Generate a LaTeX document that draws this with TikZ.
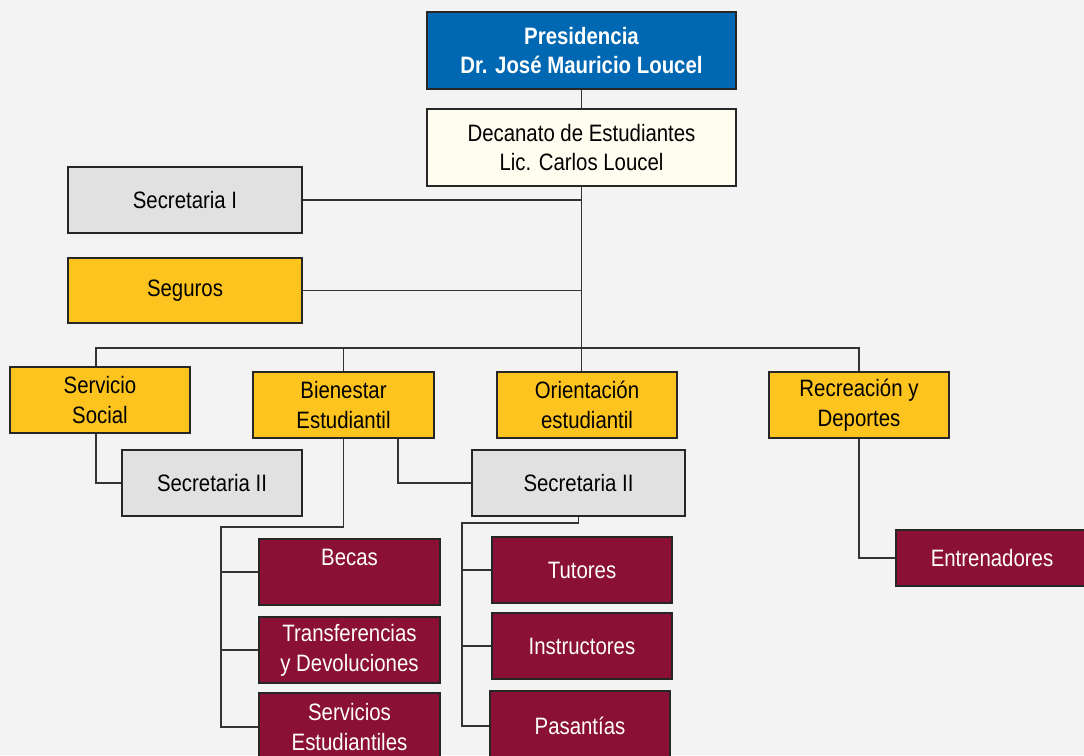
\documentclass[tikz,border=0pt]{standalone}
\usepackage{fontspec}
\setmainfont[FakeStretch=0.86]{Liberation Sans}
\usetikzlibrary{positioning}
\definecolor{fondo}{HTML}{F3F3F3}
\definecolor{azul}{HTML}{0068B3}
\definecolor{crema}{HTML}{FFFDEF}
\definecolor{gris}{HTML}{E1E1E1}
\definecolor{oro}{HTML}{FDC41F}
\definecolor{vino}{HTML}{8A1035}
\tikzset{
  caja/.style={draw=black!85, line width=0.8pt, inner sep=0pt, align=center,
    font=\fontsize{13.5}{17}\selectfont},
  sz/.style 2 args={minimum width=#1*0.02cm, minimum height=#2*0.02cm},
  pres/.style={caja, fill=azul, text=white, font=\fontsize{13.5}{17}\selectfont\bfseries},
  dec/.style={caja, fill=crema},
  sec/.style={caja, fill=gris},
  dep/.style={caja, fill=oro},
  uni/.style={caja, fill=vino, text=white},
  linea/.style={draw=black!80, line width=0.6pt}
}
\begin{document}
\begin{tikzpicture}[x=0.02cm,y=-0.02cm]
\useasboundingbox (0,0) rectangle (1084,755);
\fill[fondo] (0,0) rectangle (1084,755);
\clip (0,0) rectangle (1084,755);
%direccion
\node[pres,sz={309}{77}] (pres) at (581.5,50.5) {Presidencia\\Dr. José Mauricio Loucel};
\node[dec,sz={309}{77}] (dec) at (581.5,147.5) {Decanato de Estudiantes\\Lic. Carlos Loucel};
\node[sec,sz={234}{66}] (sec1) at (185,200) {Secretaria I};
\node[dep,sz={234}{65}] (seg) at (185,290.5) {Seguros};
%departamentos
\node[dep,sz={180}{66}] (ss) at (100,400) {Servicio\\Social};
\node[dep,sz={181}{66}] (bien) at (343.5,405) {Bienestar\\Estudiantil};
\node[dep,sz={180}{66}] (ori) at (587,405) {Orientación\\estudiantil};
\node[dep,sz={180}{66}] (rec) at (859,405) {Recreación y\\Deportes};
\node[sec,sz={180}{66}] (sec2a) at (212,483) {Secretaria II};
\node[sec,sz={213}{66}] (sec2b) at (578.5,483) {Secretaria II};
%unidades
\node[uni,sz={181}{66}] (becas) at (349.5,572) {Becas\\\mbox{}};
\node[uni,sz={181}{66}] (trans) at (349.5,650) {Transferencias\\y Devoluciones};
\node[uni,sz={181}{68}] (servs) at (349.5,727) {Servicios\\Estudiantiles};
\node[uni,sz={180}{66}] (tut) at (582,570) {Tutores};
\node[uni,sz={180}{66}] (inst) at (582,646) {Instructores};
\node[uni,sz={180}{70}] (pas) at (580,726) {Pasantías};
\node[uni,sz={192}{56}] (ent) at (992,558) {Entrenadores};
%conexiones
\coordinate (bus) at (581,348);
\draw[linea] (pres) -- (dec);
\draw[linea] (dec.south) -- (dec.south |- ori.north);
\draw[linea] (sec1.east) -- (sec1.east -| dec.south);
\draw[linea] (seg.east) -- (seg.east -| dec.south);
\draw[linea] ([xshift=-0.08cm]ss.north) |- (rec.north |- bus) -- (rec.north);
\draw[linea] (bien.north) -- (bien.north |- bus);
\draw[linea] ([xshift=-0.08cm]ss.south) |- (sec2a.west);
\draw[linea] ([xshift=1.09cm]bien.south) |- (sec2b.west);
\coordinate (bt) at (221,527);
\draw[linea] (bien.south) |- (bt) |- (servs.west);
\draw[linea] (bt |- becas.west) -- (becas.west);
\draw[linea] (bt |- trans.west) -- (trans.west);
\coordinate (ot) at (462,523);
\draw[linea] (sec2b.south) |- (ot) |- (pas.west);
\draw[linea] (ot |- tut.west) -- (tut.west);
\draw[linea] (ot |- inst.west) -- (inst.west);
\draw[linea] (rec.south) |- (ent.west);
\end{tikzpicture}
\end{document}
